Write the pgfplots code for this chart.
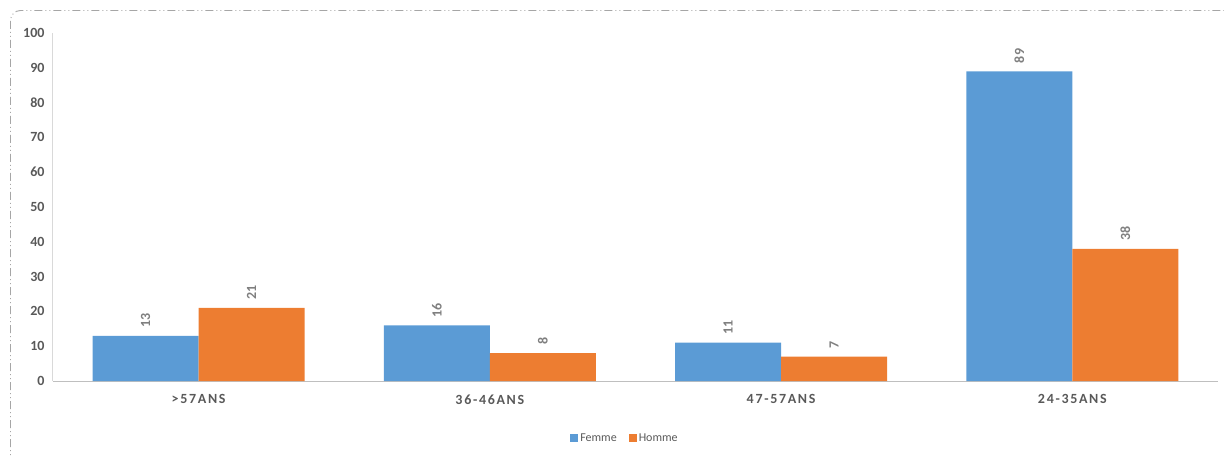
\documentclass[border=0pt]{standalone}
\usepackage{pgfplots}
\pgfplotsset{compat=1.18}
\usepackage{fontspec}
\setmainfont{Carlito}
\newfontfamily\catfont[LetterSpace=12]{Carlito}
\definecolor{fblue}{HTML}{5B9BD5}
\definecolor{forange}{HTML}{ED7D31}
\definecolor{tickgray}{HTML}{595959}
\definecolor{valgray}{HTML}{7F7F7F}
\definecolor{framegray}{HTML}{A6A6A6}
\begin{document}
\begin{tikzpicture}
\useasboundingbox (0pt,0pt) rectangle (1224pt,456pt);
\draw[framegray, line width=0.9pt, dash pattern=on 8pt off 3pt on 1pt off 3pt on 1pt off 3pt, rounded corners=10pt]
  (10.5pt,-10pt) -- (10.5pt,445.5pt) -- (1240pt,445.5pt);
\begin{axis}[
  at={(53pt,75pt)}, anchor=south west,
  scale only axis, width=1165pt, height=348pt,
  ybar=0pt, bar width=0.364,
  xmin=-0.5, xmax=3.5, ymin=0, ymax=100,
  xtick={0,1,2,3},
  xticklabels={{>57ANS},{36-46ANS},{47-57ANS},{24-35ANS}},
  ytick={0,10,...,100},
  axis x line=bottom, axis y line=left,
  x axis line style={-, draw=black!25, line width=1pt},
  y axis line style={-, draw=black!15, line width=1pt},
  major tick length=0pt,
  tick style={draw=none},
  yticklabel style={font=\fontsize{14}{16}\selectfont\bfseries, text=tickgray, xshift=-5pt},
  xticklabel style={font=\catfont\fontsize{14}{16}\selectfont\bfseries, text=tickgray, yshift=-10pt},
  /pgf/number format/assume math mode=true,
  nodes near coords,
  every node near coord/.append style={rotate=90, anchor=west, inner xsep=8pt,
     font=\fontsize{14}{16}\selectfont\bfseries, text=valgray},
  legend columns=2,
  legend style={at={(0.491,-0.164)}, anchor=center, draw=none, fill=none,
     font=\fontsize{12}{14}\selectfont, text=tickgray,
     /tikz/every even column/.append style={column sep=10pt}},
  legend image code/.code={\fill[#1] (0pt,-4pt) rectangle (8pt,4pt);},
  clip=false,
]
\addplot[fill=fblue, draw=none] coordinates {(0,13) (1,16) (2,11) (3,89)};
\addplot[fill=forange, draw=none] coordinates {(0,21) (1,8) (2,7) (3,38)};
\legend{Femme,Homme}
\end{axis}
\end{tikzpicture}
\end{document}
